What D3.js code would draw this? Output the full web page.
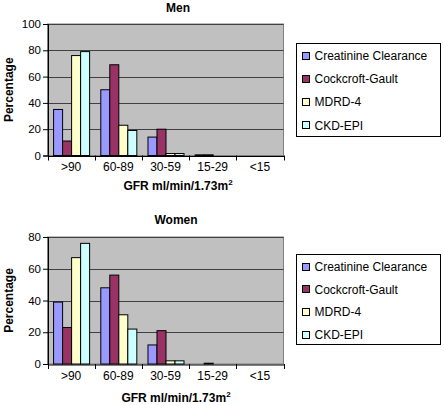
<!DOCTYPE html>
<html><head><meta charset="utf-8">
<script src="https://cdn.jsdelivr.net/npm/d3@7"></script>
<style>body{margin:0;background:#fff}svg{display:block}text{font-family:"Liberation Sans",Arial,sans-serif}</style>
</head><body>
<svg id="c" width="444" height="405"></svg>
<script>
const categories = [">90", "60-89", "30-59", "15-29", "<15"];
const seriesNames = ["Creatinine Clearance", "Cockcroft-Gault", "MDRD-4", "CKD-EPI"];
const seriesColors = ["#9999FF", "#993366", "#FFFFCC", "#CCFFFF"];
const menCrCl = [35, 50, 14, 0.5, 0];
const menCG   = [11, 69, 20, 0.5, 0];
const menMDRD = [76, 23, 1.5, 0, 0];
const menCKD  = [79, 19, 1.5, 0, 0];
const womenCrCl = [39, 48, 12, 0, 0];
const womenCG   = [23, 56, 21, 0.5, 0];
const womenMDRD = [67, 31, 2, 0, 0];
const womenCKD  = [76, 22, 2, 0, 0];
const menTicks = [0, 20, 40, 60, 80, 100];
const womenTicks = [0, 20, 40, 60, 80];

const svg = d3.select("#c");

function panel(cfg) {
  const g = svg.append("g");
  const series = cfg.values;
  const x = d3.scaleBand().domain(categories).range([cfg.left, cfg.right]);
  const x1 = d3.scaleBand().domain(d3.range(series.length)).range([0, x.bandwidth()]).paddingInner(0).paddingOuter(0.62);
  const y = d3.scaleLinear().domain([0, d3.max(cfg.ticks)]).range([cfg.bottom, cfg.top]);

  g.append("rect").attr("x", cfg.left).attr("y", cfg.top)
    .attr("width", cfg.right - cfg.left).attr("height", cfg.bottom - cfg.top)
    .attr("fill", "#C0C0C0").attr("stroke", "#808080").attr("stroke-width", 1);

  g.selectAll(".grid").data(cfg.ticks.filter(t => t > 0)).join("line")
    .attr("x1", cfg.left).attr("x2", cfg.right)
    .attr("y1", d => Math.round(y(d)) + 0.5).attr("y2", d => Math.round(y(d)) + 0.5)
    .attr("stroke", "#404040").attr("stroke-width", 1);

  categories.forEach((c, ci) => {
    series.forEach((s, si) => {
      const v = s[ci];
      if (v <= 0) return;
      const y0 = y(v);
      g.append("rect")
        .attr("x", x(c) + x1(si) + 0.5)
        .attr("y", y0)
        .attr("width", x1.bandwidth())
        .attr("height", Math.max(0.5, cfg.bottom - y0))
        .attr("fill", seriesColors[si]).attr("stroke", "#000").attr("stroke-width", 1);
    });
  });

  const yAxis = d3.axisLeft(y).tickValues(cfg.ticks).tickSize(5).tickPadding(2).tickFormat(d3.format("d"));
  const ya = g.append("g").attr("transform", `translate(${cfg.left + 0.5},0)`).call(yAxis);
  ya.select(".domain").attr("stroke", "#000");
  ya.selectAll("text").attr("font-size", 11.5).attr("fill", "#000");

  const xAxis = d3.axisBottom(x).tickSize(0).tickPadding(cfg.xPad);
  const xa = g.append("g").attr("transform", `translate(0,${cfg.bottom + 0.5})`).call(xAxis);
  xa.select(".domain").attr("stroke", "#000");
  xa.selectAll("text").attr("font-size", 12).attr("fill", "#000");
  g.selectAll(".sep").data(categories.concat(["end"])).join("line")
    .attr("x1", (d, i) => Math.round(cfg.left + i * x.step()) + 0.5)
    .attr("x2", (d, i) => Math.round(cfg.left + i * x.step()) + 0.5)
    .attr("y1", cfg.bottom).attr("y2", cfg.bottom + 5)
    .attr("stroke", "#000");

  g.append("text").attr("x", cfg.titleX).attr("y", cfg.titleY).attr("text-anchor", "middle")
    .attr("font-size", 12).attr("font-weight", "bold").text(cfg.title);

  g.append("text").attr("transform", `translate(${cfg.ylabX},${(cfg.top + cfg.bottom) / 2}) rotate(-90)`)
    .attr("text-anchor", "middle").attr("font-size", 12).attr("font-weight", "bold").text("Percentage");

  const xt = g.append("text").attr("x", cfg.titleX).attr("y", cfg.xlabY).attr("text-anchor", "middle")
    .attr("font-size", 12).attr("font-weight", "bold");
  xt.append("tspan").text("GFR ml/min/1.73m");
  xt.append("tspan").attr("font-size", 8).attr("dy", -5).text("2");

  const lg = g.append("g");
  lg.append("rect").attr("x", 296.5).attr("y", cfg.legTop + 0.5).attr("width", 144).attr("height", cfg.legH)
    .attr("fill", "#fff").attr("stroke", "#000").attr("stroke-width", 1);
  seriesNames.forEach((n, i) => {
    const cy = cfg.legTop + 12.5 + i * cfg.legStep;
    lg.append("rect").attr("x", 302.5).attr("y", Math.round(cy - 4) + 0.5).attr("width", 7).attr("height", 7)
      .attr("fill", seriesColors[i]).attr("stroke", "#000");
    lg.append("text").attr("x", 314.5).attr("y", cy + 4.5).attr("font-size", 12).text(n);
  });
}

panel({ values: [menCrCl, menCG, menMDRD, menCKD], ticks: menTicks,
  left: 47.5, right: 283.5, top: 24, bottom: 155.5, title: "Men", titleX: 178, titleY: 12,
  ylabX: 12.5, xlabY: 190, xPad: 6, legTop: 43, legH: 93, legStep: 23.2 });
panel({ values: [womenCrCl, womenCG, womenMDRD, womenCKD], ticks: womenTicks,
  left: 47.5, right: 283.5, top: 237, bottom: 364, title: "Women", titleX: 176, titleY: 224,
  ylabX: 12.5, xlabY: 402, xPad: 7, legTop: 254, legH: 90, legStep: 22.7 });
</script>
</body></html>
